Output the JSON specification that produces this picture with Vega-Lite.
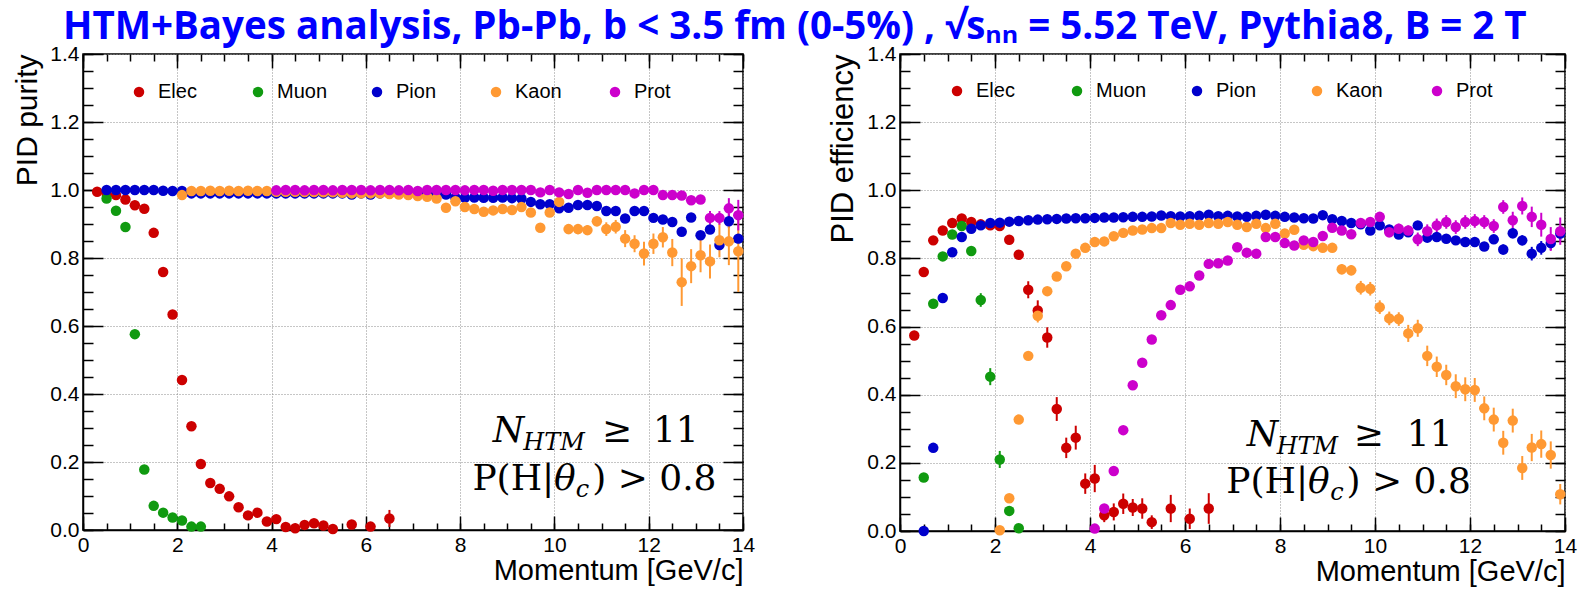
{
  "$schema": "https://vega.github.io/schema/vega-lite/v6.json",
  "background": "white",
  "padding": {"left": 12, "top": 7, "right": 5, "bottom": 5},
  "title": {"text": "HTM+Bayes analysis, Pb-Pb, b < 3.5 fm (0-5%) , √sₙₙ = 5.52 TeV, Pythia8, B = 2 T", "font": "Open Sans", "fontSize": 38.5, "fontWeight": "bold", "color": "#0000ff", "anchor": "middle", "offset": -5},
  "config": {"view": {"stroke": "black", "strokeWidth": 1.5}},
  "resolve": {"scale": {"color": "independent"}, "legend": {"color": "independent"}},
  "bounds": "flush",
  "spacing": 157,
  "datasets": {
    "pur": [
      {"s":"Elec","p":0.3,"v":0.995},{"s":"Elec","p":0.5,"v":0.99},{"s":"Elec","p":0.7,"v":0.985},{"s":"Elec","p":0.9,"v":0.972},{"s":"Elec","p":1.1,"v":0.955},{"s":"Elec","p":1.3,"v":0.945},{"s":"Elec","p":1.5,"v":0.874},{"s":"Elec","p":1.7,"v":0.759},{"s":"Elec","p":1.9,"v":0.634},{"s":"Elec","p":2.1,"v":0.441},{"s":"Elec","p":2.3,"v":0.305},{"s":"Elec","p":2.5,"v":0.194},{"s":"Elec","p":2.7,"v":0.138},{"s":"Elec","p":2.9,"v":0.121},{"s":"Elec","p":3.1,"v":0.099},{"s":"Elec","p":3.3,"v":0.067},{"s":"Elec","p":3.5,"v":0.043},{"s":"Elec","p":3.7,"v":0.051},{"s":"Elec","p":3.9,"v":0.025},{"s":"Elec","p":4.1,"v":0.032},{"s":"Elec","p":4.3,"v":0.009},{"s":"Elec","p":4.5,"v":0.005},{"s":"Elec","p":4.7,"v":0.015},{"s":"Elec","p":4.9,"v":0.02},{"s":"Elec","p":5.1,"v":0.013},{"s":"Elec","p":5.3,"v":0.003},{"s":"Elec","p":5.7,"v":0.016},{"s":"Elec","p":6.1,"v":0.01},{"s":"Elec","p":6.5,"v":0.034,"e":0.025},
      {"s":"Muon","p":0.5,"v":0.975},{"s":"Muon","p":0.7,"v":0.939},{"s":"Muon","p":0.9,"v":0.891},{"s":"Muon","p":1.1,"v":0.576},{"s":"Muon","p":1.3,"v":0.178},{"s":"Muon","p":1.5,"v":0.071},{"s":"Muon","p":1.7,"v":0.051},{"s":"Muon","p":1.9,"v":0.037},{"s":"Muon","p":2.1,"v":0.028},{"s":"Muon","p":2.3,"v":0.01},{"s":"Muon","p":2.5,"v":0.01},
      {"s":"Pion","p":0.5,"v":1.0},{"s":"Pion","p":0.7,"v":1.0},{"s":"Pion","p":0.9,"v":1.0},{"s":"Pion","p":1.1,"v":1.0},{"s":"Pion","p":1.3,"v":1.0},{"s":"Pion","p":1.5,"v":1.0},{"s":"Pion","p":1.7,"v":0.998},{"s":"Pion","p":1.9,"v":0.997},{"s":"Pion","p":2.1,"v":0.997},{"s":"Pion","p":2.3,"v":0.99},{"s":"Pion","p":2.5,"v":0.99},{"s":"Pion","p":2.7,"v":0.99},{"s":"Pion","p":2.9,"v":0.99},{"s":"Pion","p":3.1,"v":0.99},{"s":"Pion","p":3.3,"v":0.99},{"s":"Pion","p":3.5,"v":0.99},{"s":"Pion","p":3.7,"v":0.99},{"s":"Pion","p":3.9,"v":0.99},{"s":"Pion","p":4.1,"v":0.99},{"s":"Pion","p":4.3,"v":0.99},{"s":"Pion","p":4.5,"v":0.99},{"s":"Pion","p":4.7,"v":0.99},{"s":"Pion","p":4.9,"v":0.99},{"s":"Pion","p":5.1,"v":0.99},{"s":"Pion","p":5.3,"v":0.99},{"s":"Pion","p":5.5,"v":0.99},{"s":"Pion","p":5.7,"v":0.987},{"s":"Pion","p":5.9,"v":0.99},{"s":"Pion","p":6.1,"v":0.987},{"s":"Pion","p":6.3,"v":0.99},{"s":"Pion","p":6.5,"v":0.99},{"s":"Pion","p":6.7,"v":0.99},{"s":"Pion","p":6.9,"v":0.99},{"s":"Pion","p":7.1,"v":0.99},{"s":"Pion","p":7.3,"v":0.988},{"s":"Pion","p":7.5,"v":0.987},{"s":"Pion","p":7.7,"v":0.987},{"s":"Pion","p":7.9,"v":0.978},{"s":"Pion","p":8.1,"v":0.977},{"s":"Pion","p":8.3,"v":0.978},{"s":"Pion","p":8.5,"v":0.977},{"s":"Pion","p":8.7,"v":0.977},{"s":"Pion","p":8.9,"v":0.978},{"s":"Pion","p":9.1,"v":0.976},{"s":"Pion","p":9.3,"v":0.975},{"s":"Pion","p":9.5,"v":0.965},{"s":"Pion","p":9.7,"v":0.958},{"s":"Pion","p":9.9,"v":0.958},{"s":"Pion","p":10.1,"v":0.946},{"s":"Pion","p":10.3,"v":0.948},{"s":"Pion","p":10.5,"v":0.956},{"s":"Pion","p":10.7,"v":0.956},{"s":"Pion","p":10.9,"v":0.953},{"s":"Pion","p":11.1,"v":0.938},{"s":"Pion","p":11.3,"v":0.938},{"s":"Pion","p":11.5,"v":0.916},{"s":"Pion","p":11.7,"v":0.938},{"s":"Pion","p":11.9,"v":0.938},{"s":"Pion","p":12.1,"v":0.918},{"s":"Pion","p":12.3,"v":0.913},{"s":"Pion","p":12.5,"v":0.906},{"s":"Pion","p":12.7,"v":0.877},{"s":"Pion","p":12.9,"v":0.919},{"s":"Pion","p":13.1,"v":0.867,"e":0.01},{"s":"Pion","p":13.3,"v":0.884,"e":0.01},{"s":"Pion","p":13.5,"v":0.838,"e":0.015},{"s":"Pion","p":13.7,"v":0.908,"e":0.02},{"s":"Pion","p":13.9,"v":0.857,"e":0.015},
      {"s":"Kaon","p":2.1,"v":0.985},{"s":"Kaon","p":2.3,"v":0.997},{"s":"Kaon","p":2.5,"v":0.997},{"s":"Kaon","p":2.7,"v":0.998},{"s":"Kaon","p":2.9,"v":0.997},{"s":"Kaon","p":3.1,"v":0.998},{"s":"Kaon","p":3.3,"v":0.997},{"s":"Kaon","p":3.5,"v":0.998},{"s":"Kaon","p":3.7,"v":0.997},{"s":"Kaon","p":3.9,"v":0.997},{"s":"Kaon","p":4.1,"v":0.995},{"s":"Kaon","p":4.3,"v":0.995},{"s":"Kaon","p":4.5,"v":0.995},{"s":"Kaon","p":4.7,"v":0.994},{"s":"Kaon","p":4.9,"v":0.994},{"s":"Kaon","p":5.1,"v":0.993},{"s":"Kaon","p":5.3,"v":0.993},{"s":"Kaon","p":5.5,"v":0.992},{"s":"Kaon","p":5.7,"v":0.99},{"s":"Kaon","p":5.9,"v":0.99},{"s":"Kaon","p":6.1,"v":0.99},{"s":"Kaon","p":6.3,"v":0.99},{"s":"Kaon","p":6.5,"v":0.988},{"s":"Kaon","p":6.7,"v":0.987},{"s":"Kaon","p":6.9,"v":0.985},{"s":"Kaon","p":7.1,"v":0.982},{"s":"Kaon","p":7.3,"v":0.98},{"s":"Kaon","p":7.5,"v":0.975},{"s":"Kaon","p":7.7,"v":0.948},{"s":"Kaon","p":7.9,"v":0.967},{"s":"Kaon","p":8.1,"v":0.95},{"s":"Kaon","p":8.3,"v":0.944},{"s":"Kaon","p":8.5,"v":0.936},{"s":"Kaon","p":8.7,"v":0.94},{"s":"Kaon","p":8.9,"v":0.944},{"s":"Kaon","p":9.1,"v":0.941},{"s":"Kaon","p":9.3,"v":0.95},{"s":"Kaon","p":9.5,"v":0.934},{"s":"Kaon","p":9.7,"v":0.889,"e":0.01},{"s":"Kaon","p":9.9,"v":0.934,"e":0.01},{"s":"Kaon","p":10.1,"v":0.965},{"s":"Kaon","p":10.3,"v":0.885,"e":0.015},{"s":"Kaon","p":10.5,"v":0.885,"e":0.015},{"s":"Kaon","p":10.7,"v":0.882,"e":0.015},{"s":"Kaon","p":10.9,"v":0.908,"e":0.015},{"s":"Kaon","p":11.1,"v":0.885,"e":0.02},{"s":"Kaon","p":11.3,"v":0.892,"e":0.02},{"s":"Kaon","p":11.5,"v":0.857,"e":0.025},{"s":"Kaon","p":11.7,"v":0.842,"e":0.025},{"s":"Kaon","p":11.9,"v":0.813,"e":0.035},{"s":"Kaon","p":12.1,"v":0.842,"e":0.03},{"s":"Kaon","p":12.3,"v":0.861,"e":0.03},{"s":"Kaon","p":12.5,"v":0.816,"e":0.04},{"s":"Kaon","p":12.7,"v":0.729,"e":0.07},{"s":"Kaon","p":12.9,"v":0.776,"e":0.05},{"s":"Kaon","p":13.1,"v":0.808,"e":0.05},{"s":"Kaon","p":13.3,"v":0.79,"e":0.05},{"s":"Kaon","p":13.5,"v":0.852,"e":0.05},{"s":"Kaon","p":13.7,"v":0.849,"e":0.07},{"s":"Kaon","p":13.9,"v":0.82,"e":0.12},
      {"s":"Prot","p":4.1,"v":0.999},{"s":"Prot","p":4.3,"v":1.0},{"s":"Prot","p":4.5,"v":1.0},{"s":"Prot","p":4.7,"v":0.999},{"s":"Prot","p":4.9,"v":1.0},{"s":"Prot","p":5.1,"v":1.0},{"s":"Prot","p":5.3,"v":0.999},{"s":"Prot","p":5.5,"v":1.0},{"s":"Prot","p":5.7,"v":1.0},{"s":"Prot","p":5.9,"v":1.0},{"s":"Prot","p":6.1,"v":0.999},{"s":"Prot","p":6.3,"v":1.0},{"s":"Prot","p":6.5,"v":1.0},{"s":"Prot","p":6.7,"v":0.999},{"s":"Prot","p":6.9,"v":1.0},{"s":"Prot","p":7.1,"v":0.997},{"s":"Prot","p":7.3,"v":1.0},{"s":"Prot","p":7.5,"v":1.0},{"s":"Prot","p":7.7,"v":1.0},{"s":"Prot","p":7.9,"v":1.0},{"s":"Prot","p":8.1,"v":0.999},{"s":"Prot","p":8.3,"v":1.0},{"s":"Prot","p":8.5,"v":1.0},{"s":"Prot","p":8.7,"v":0.998},{"s":"Prot","p":8.9,"v":1.0},{"s":"Prot","p":9.1,"v":1.0},{"s":"Prot","p":9.3,"v":1.0},{"s":"Prot","p":9.5,"v":1.0},{"s":"Prot","p":9.7,"v":0.993},{"s":"Prot","p":9.9,"v":1.0},{"s":"Prot","p":10.1,"v":0.993},{"s":"Prot","p":10.3,"v":0.988},{"s":"Prot","p":10.5,"v":1.0},{"s":"Prot","p":10.7,"v":0.992},{"s":"Prot","p":10.9,"v":1.0},{"s":"Prot","p":11.1,"v":1.0},{"s":"Prot","p":11.3,"v":1.0},{"s":"Prot","p":11.5,"v":1.0},{"s":"Prot","p":11.7,"v":0.99},{"s":"Prot","p":11.9,"v":1.0},{"s":"Prot","p":12.1,"v":1.0},{"s":"Prot","p":12.3,"v":0.985},{"s":"Prot","p":12.5,"v":0.985},{"s":"Prot","p":12.7,"v":0.984},{"s":"Prot","p":12.9,"v":0.97},{"s":"Prot","p":13.1,"v":0.972},{"s":"Prot","p":13.3,"v":0.918,"e":0.02},{"s":"Prot","p":13.5,"v":0.918,"e":0.02},{"s":"Prot","p":13.7,"v":0.946,"e":0.03},{"s":"Prot","p":13.9,"v":0.926,"e":0.045}
    ],
    "eff": [
      {"s":"Elec","p":0.3,"v":0.574,"e":0.01},{"s":"Elec","p":0.5,"v":0.76},{"s":"Elec","p":0.7,"v":0.853},{"s":"Elec","p":0.9,"v":0.882},{"s":"Elec","p":1.1,"v":0.904},{"s":"Elec","p":1.3,"v":0.917},{"s":"Elec","p":1.5,"v":0.907},{"s":"Elec","p":1.7,"v":0.9},{"s":"Elec","p":1.9,"v":0.897},{"s":"Elec","p":2.1,"v":0.895},{"s":"Elec","p":2.3,"v":0.855},{"s":"Elec","p":2.5,"v":0.811},{"s":"Elec","p":2.7,"v":0.708,"e":0.025},{"s":"Elec","p":2.9,"v":0.647,"e":0.03},{"s":"Elec","p":3.1,"v":0.568,"e":0.03},{"s":"Elec","p":3.3,"v":0.358,"e":0.035},{"s":"Elec","p":3.5,"v":0.244,"e":0.03},{"s":"Elec","p":3.7,"v":0.274,"e":0.035},{"s":"Elec","p":3.9,"v":0.139,"e":0.03},{"s":"Elec","p":4.1,"v":0.154,"e":0.04},{"s":"Elec","p":4.3,"v":0.046,"e":0.02},{"s":"Elec","p":4.5,"v":0.056,"e":0.025},{"s":"Elec","p":4.7,"v":0.08,"e":0.03},{"s":"Elec","p":4.9,"v":0.069,"e":0.025},{"s":"Elec","p":5.1,"v":0.066,"e":0.03},{"s":"Elec","p":5.3,"v":0.026,"e":0.02},{"s":"Elec","p":5.7,"v":0.066,"e":0.04},{"s":"Elec","p":6.1,"v":0.036,"e":0.03},{"s":"Elec","p":6.5,"v":0.066,"e":0.045},
      {"s":"Muon","p":0.5,"v":0.157},{"s":"Muon","p":0.7,"v":0.667},{"s":"Muon","p":0.9,"v":0.806},{"s":"Muon","p":1.1,"v":0.87},{"s":"Muon","p":1.3,"v":0.895},{"s":"Muon","p":1.5,"v":0.822},{"s":"Muon","p":1.7,"v":0.678,"e":0.02},{"s":"Muon","p":1.9,"v":0.453,"e":0.025},{"s":"Muon","p":2.1,"v":0.21,"e":0.025},{"s":"Muon","p":2.3,"v":0.059},{"s":"Muon","p":2.5,"v":0.008},
      {"s":"Pion","p":0.5,"v":0.0},{"s":"Pion","p":0.7,"v":0.244},{"s":"Pion","p":0.9,"v":0.684},{"s":"Pion","p":1.1,"v":0.818},{"s":"Pion","p":1.3,"v":0.863},{"s":"Pion","p":1.5,"v":0.887},{"s":"Pion","p":1.7,"v":0.897},{"s":"Pion","p":1.9,"v":0.904},{"s":"Pion","p":2.1,"v":0.905},{"s":"Pion","p":2.3,"v":0.908},{"s":"Pion","p":2.5,"v":0.91},{"s":"Pion","p":2.7,"v":0.912},{"s":"Pion","p":2.9,"v":0.914},{"s":"Pion","p":3.1,"v":0.915},{"s":"Pion","p":3.3,"v":0.916},{"s":"Pion","p":3.5,"v":0.917},{"s":"Pion","p":3.7,"v":0.918},{"s":"Pion","p":3.9,"v":0.918},{"s":"Pion","p":4.1,"v":0.919},{"s":"Pion","p":4.3,"v":0.92},{"s":"Pion","p":4.5,"v":0.92},{"s":"Pion","p":4.7,"v":0.921},{"s":"Pion","p":4.9,"v":0.922},{"s":"Pion","p":5.1,"v":0.922},{"s":"Pion","p":5.3,"v":0.923},{"s":"Pion","p":5.5,"v":0.926},{"s":"Pion","p":5.7,"v":0.924},{"s":"Pion","p":5.9,"v":0.923},{"s":"Pion","p":6.1,"v":0.924},{"s":"Pion","p":6.3,"v":0.925},{"s":"Pion","p":6.5,"v":0.928},{"s":"Pion","p":6.7,"v":0.924},{"s":"Pion","p":6.9,"v":0.925},{"s":"Pion","p":7.1,"v":0.923},{"s":"Pion","p":7.3,"v":0.922},{"s":"Pion","p":7.5,"v":0.925},{"s":"Pion","p":7.7,"v":0.928},{"s":"Pion","p":7.9,"v":0.925},{"s":"Pion","p":8.1,"v":0.922},{"s":"Pion","p":8.3,"v":0.92},{"s":"Pion","p":8.5,"v":0.918},{"s":"Pion","p":8.7,"v":0.917},{"s":"Pion","p":8.9,"v":0.927},{"s":"Pion","p":9.1,"v":0.915},{"s":"Pion","p":9.3,"v":0.91},{"s":"Pion","p":9.5,"v":0.904},{"s":"Pion","p":9.7,"v":0.9},{"s":"Pion","p":9.9,"v":0.882},{"s":"Pion","p":10.1,"v":0.897},{"s":"Pion","p":10.3,"v":0.885},{"s":"Pion","p":10.5,"v":0.87},{"s":"Pion","p":10.7,"v":0.877},{"s":"Pion","p":10.9,"v":0.897},{"s":"Pion","p":11.1,"v":0.861},{"s":"Pion","p":11.3,"v":0.863},{"s":"Pion","p":11.5,"v":0.858},{"s":"Pion","p":11.7,"v":0.853},{"s":"Pion","p":11.9,"v":0.848},{"s":"Pion","p":12.1,"v":0.848},{"s":"Pion","p":12.3,"v":0.835},{"s":"Pion","p":12.5,"v":0.856},{"s":"Pion","p":12.7,"v":0.826,"e":0.015},{"s":"Pion","p":12.9,"v":0.874,"e":0.015},{"s":"Pion","p":13.1,"v":0.853,"e":0.015},{"s":"Pion","p":13.3,"v":0.814,"e":0.02},{"s":"Pion","p":13.5,"v":0.831,"e":0.02},{"s":"Pion","p":13.7,"v":0.845,"e":0.02},{"s":"Pion","p":13.9,"v":0.873,"e":0.02},
      {"s":"Kaon","p":2.1,"v":0.002},{"s":"Kaon","p":2.3,"v":0.096},{"s":"Kaon","p":2.5,"v":0.327},{"s":"Kaon","p":2.7,"v":0.514},{"s":"Kaon","p":2.9,"v":0.632,"e":0.02},{"s":"Kaon","p":3.1,"v":0.704},{"s":"Kaon","p":3.3,"v":0.747},{"s":"Kaon","p":3.5,"v":0.777},{"s":"Kaon","p":3.7,"v":0.814},{"s":"Kaon","p":3.9,"v":0.831},{"s":"Kaon","p":4.1,"v":0.848},{"s":"Kaon","p":4.3,"v":0.85},{"s":"Kaon","p":4.5,"v":0.865},{"s":"Kaon","p":4.7,"v":0.875},{"s":"Kaon","p":4.9,"v":0.882},{"s":"Kaon","p":5.1,"v":0.885},{"s":"Kaon","p":5.3,"v":0.889},{"s":"Kaon","p":5.5,"v":0.889},{"s":"Kaon","p":5.7,"v":0.904},{"s":"Kaon","p":5.9,"v":0.899},{"s":"Kaon","p":6.1,"v":0.902},{"s":"Kaon","p":6.3,"v":0.899},{"s":"Kaon","p":6.5,"v":0.904},{"s":"Kaon","p":6.7,"v":0.902},{"s":"Kaon","p":6.9,"v":0.907},{"s":"Kaon","p":7.1,"v":0.899},{"s":"Kaon","p":7.3,"v":0.892},{"s":"Kaon","p":7.5,"v":0.902},{"s":"Kaon","p":7.7,"v":0.889},{"s":"Kaon","p":7.9,"v":0.902},{"s":"Kaon","p":8.1,"v":0.873},{"s":"Kaon","p":8.3,"v":0.884},{"s":"Kaon","p":8.5,"v":0.84},{"s":"Kaon","p":8.7,"v":0.836},{"s":"Kaon","p":8.9,"v":0.831},{"s":"Kaon","p":9.1,"v":0.831},{"s":"Kaon","p":9.3,"v":0.768,"e":0.015},{"s":"Kaon","p":9.5,"v":0.765,"e":0.015},{"s":"Kaon","p":9.7,"v":0.714,"e":0.02},{"s":"Kaon","p":9.9,"v":0.711,"e":0.02},{"s":"Kaon","p":10.1,"v":0.657,"e":0.02},{"s":"Kaon","p":10.3,"v":0.624,"e":0.02},{"s":"Kaon","p":10.5,"v":0.622,"e":0.02},{"s":"Kaon","p":10.7,"v":0.58,"e":0.025},{"s":"Kaon","p":10.9,"v":0.595,"e":0.025},{"s":"Kaon","p":11.1,"v":0.514,"e":0.03},{"s":"Kaon","p":11.3,"v":0.482,"e":0.03},{"s":"Kaon","p":11.5,"v":0.458,"e":0.03},{"s":"Kaon","p":11.7,"v":0.425,"e":0.035},{"s":"Kaon","p":11.9,"v":0.416,"e":0.035},{"s":"Kaon","p":12.1,"v":0.414,"e":0.035},{"s":"Kaon","p":12.3,"v":0.36,"e":0.035},{"s":"Kaon","p":12.5,"v":0.327,"e":0.035},{"s":"Kaon","p":12.7,"v":0.259,"e":0.035},{"s":"Kaon","p":12.9,"v":0.324,"e":0.035},{"s":"Kaon","p":13.1,"v":0.185,"e":0.035},{"s":"Kaon","p":13.3,"v":0.245,"e":0.04},{"s":"Kaon","p":13.5,"v":0.255,"e":0.04},{"s":"Kaon","p":13.7,"v":0.223,"e":0.04},{"s":"Kaon","p":13.9,"v":0.108,"e":0.03},
      {"s":"Prot","p":4.1,"v":0.007},{"s":"Prot","p":4.3,"v":0.066},{"s":"Prot","p":4.5,"v":0.176},{"s":"Prot","p":4.7,"v":0.296},{"s":"Prot","p":4.9,"v":0.428},{"s":"Prot","p":5.1,"v":0.494},{"s":"Prot","p":5.3,"v":0.562},{"s":"Prot","p":5.5,"v":0.633},{"s":"Prot","p":5.7,"v":0.663},{"s":"Prot","p":5.9,"v":0.708},{"s":"Prot","p":6.1,"v":0.718},{"s":"Prot","p":6.3,"v":0.75},{"s":"Prot","p":6.5,"v":0.784},{"s":"Prot","p":6.7,"v":0.786},{"s":"Prot","p":6.9,"v":0.794},{"s":"Prot","p":7.1,"v":0.833},{"s":"Prot","p":7.3,"v":0.817},{"s":"Prot","p":7.5,"v":0.814},{"s":"Prot","p":7.7,"v":0.863},{"s":"Prot","p":7.9,"v":0.863},{"s":"Prot","p":8.1,"v":0.845},{"s":"Prot","p":8.3,"v":0.838},{"s":"Prot","p":8.5,"v":0.853},{"s":"Prot","p":8.7,"v":0.848},{"s":"Prot","p":8.9,"v":0.866},{"s":"Prot","p":9.1,"v":0.89},{"s":"Prot","p":9.3,"v":0.882},{"s":"Prot","p":9.5,"v":0.871},{"s":"Prot","p":9.7,"v":0.904},{"s":"Prot","p":9.9,"v":0.907},{"s":"Prot","p":10.1,"v":0.922,"e":0.01},{"s":"Prot","p":10.3,"v":0.877,"e":0.015},{"s":"Prot","p":10.5,"v":0.887,"e":0.015},{"s":"Prot","p":10.7,"v":0.882,"e":0.015},{"s":"Prot","p":10.9,"v":0.856,"e":0.02},{"s":"Prot","p":11.1,"v":0.88,"e":0.02},{"s":"Prot","p":11.3,"v":0.897,"e":0.02},{"s":"Prot","p":11.5,"v":0.907,"e":0.02},{"s":"Prot","p":11.7,"v":0.892,"e":0.02},{"s":"Prot","p":11.9,"v":0.907,"e":0.02},{"s":"Prot","p":12.1,"v":0.91,"e":0.02},{"s":"Prot","p":12.3,"v":0.907,"e":0.02},{"s":"Prot","p":12.5,"v":0.895,"e":0.02},{"s":"Prot","p":12.7,"v":0.951,"e":0.02},{"s":"Prot","p":12.9,"v":0.912,"e":0.025},{"s":"Prot","p":13.1,"v":0.954,"e":0.025},{"s":"Prot","p":13.3,"v":0.922,"e":0.03},{"s":"Prot","p":13.5,"v":0.899,"e":0.035},{"s":"Prot","p":13.7,"v":0.857,"e":0.035},{"s":"Prot","p":13.9,"v":0.88,"e":0.04}
    ]
  },
  "hconcat": [
    {
      "width": 660, "height": 476,
      "data": {"name": "pur"},
      "resolve": {"axis": {"x": "independent", "y": "independent"}},
      "layer": [
        {"transform": [{"filter": "datum.s == 'Elec' && datum.e > 0"}], "mark": {"type": "errorbar", "thickness": 2, "color": "#cc0000"},
         "encoding": {"x": {"field": "p", "type": "quantitative", "scale": {"domain": [0, 14], "nice": false, "zero": false}, "axis": null}, "y": {"field": "v", "type": "quantitative", "scale": {"domain": [0, 1.4], "nice": false, "zero": false}, "axis": null}, "yError": {"field": "e"}}},
        {"transform": [{"filter": "datum.s == 'Pion' && datum.e > 0"}], "mark": {"type": "errorbar", "thickness": 2, "color": "#0000cc"},
         "encoding": {"x": {"field": "p", "type": "quantitative", "scale": {"domain": [0, 14], "nice": false, "zero": false}, "axis": null}, "y": {"field": "v", "type": "quantitative", "scale": {"domain": [0, 1.4], "nice": false, "zero": false}, "axis": null}, "yError": {"field": "e"}}},
        {"transform": [{"filter": "datum.s == 'Kaon' && datum.e > 0"}], "mark": {"type": "errorbar", "thickness": 2, "color": "#ff9933"},
         "encoding": {"x": {"field": "p", "type": "quantitative", "scale": {"domain": [0, 14], "nice": false, "zero": false}, "axis": null}, "y": {"field": "v", "type": "quantitative", "scale": {"domain": [0, 1.4], "nice": false, "zero": false}, "axis": null}, "yError": {"field": "e"}}},
        {"transform": [{"filter": "datum.s == 'Prot' && datum.e > 0"}], "mark": {"type": "errorbar", "thickness": 2, "color": "#cc00cc"},
         "encoding": {"x": {"field": "p", "type": "quantitative", "scale": {"domain": [0, 14], "nice": false, "zero": false}, "axis": null}, "y": {"field": "v", "type": "quantitative", "scale": {"domain": [0, 1.4], "nice": false, "zero": false}, "axis": null}, "yError": {"field": "e"}}},
        {
          "mark": {"type": "circle", "size": 110, "opacity": 1},
          "encoding": {
            "x": {"field": "p", "type": "quantitative", "scale": {"domain": [0, 14], "nice": false, "zero": false},
              "axis": {"orient": "bottom", "values": [0,2,4,6,8,10,12,14], "format": "d", "title": "Momentum [GeV/c]", "titleAnchor": "end", "titleFont": "Liberation Sans", "titleFontSize": 29, "titleFontWeight": "normal", "titleColor": "black", "titlePadding": 1, "labelFont": "Liberation Sans", "labelFontSize": 21, "labelColor": "black", "labelPadding": 4, "labelFlush": false, "labelOverlap": false, "ticks": false, "domain": true, "domainColor": "black", "domainWidth": 1.5, "grid": true, "gridDash": [1,2], "gridColor": "#8c8c8c", "gridWidth": 1}},
            "y": {"field": "v", "type": "quantitative", "scale": {"domain": [0, 1.4], "nice": false, "zero": false},
              "axis": {"orient": "left", "values": [0,0.2,0.4,0.6,0.8,1,1.2,1.4], "format": ".1f", "title": "PID purity", "titleAnchor": "end", "titleFont": "Liberation Sans", "titleFontSize": 30, "titleFontWeight": "normal", "titleColor": "black", "titlePadding": 7, "labelFont": "Liberation Sans", "labelFontSize": 21, "labelColor": "black", "labelPadding": 4, "labelFlush": false, "labelOverlap": false, "ticks": false, "domain": true, "domainColor": "black", "domainWidth": 1.5, "grid": true, "gridDash": [1,2], "gridColor": "#8c8c8c", "gridWidth": 1}},
            "color": {"field": "s", "type": "nominal", "scale": {"domain": ["Elec","Muon","Pion","Kaon","Prot"], "range": ["#cc0000","#109a10","#0000cc","#ff9933","#cc00cc"]},
              "legend": {"orient": "none", "legendX": 46, "legendY": 28, "direction": "horizontal", "columns": 5, "gridAlign": "all", "columnPadding": 39, "title": null, "symbolType": "circle", "symbolSize": 110, "symbolStrokeWidth": 0, "labelFont": "Liberation Sans", "labelFontSize": 20, "labelColor": "black", "labelOffset": 9}}
          }
        },
        {
          "data": {"values": [{}]},
          "mark": {"type": "text", "text": "N", "font": "DejaVu Serif", "fontSize": 36, "fontStyle": "italic", "align": "left", "baseline": "alphabetic", "color": "black"},
          "encoding": {
            "x": {"datum": 8.69, "type": "quantitative", "scale": {"domain": [0, 14], "nice": false, "zero": false}, "axis": {"orient": "bottom", "values": [0,2,4,6,8,10,12,14], "labels": false, "title": null, "domain": false, "grid": false, "ticks": true, "tickSize": -14, "tickColor": "black", "tickWidth": 1.5}},
            "y": {"datum": 0.259, "type": "quantitative", "scale": {"domain": [0, 1.4], "nice": false, "zero": false}, "axis": {"orient": "left", "values": [0,0.2,0.4,0.6,0.8,1,1.2,1.4], "labels": false, "title": null, "domain": false, "grid": false, "ticks": true, "tickSize": -20, "tickColor": "black", "tickWidth": 1.5}}
          }
        },
        {
          "data": {"values": [{}]},
          "mark": {"type": "text", "text": "HTM", "font": "DejaVu Serif", "fontSize": 24, "fontStyle": "italic", "align": "left", "baseline": "alphabetic", "color": "black"},
          "encoding": {
            "x": {"datum": 9.34, "type": "quantitative", "scale": {"domain": [0, 14], "nice": false, "zero": false}, "axis": {"orient": "bottom", "values": [0,0.5,1,1.5,2,2.5,3,3.5,4,4.5,5,5.5,6,6.5,7,7.5,8,8.5,9,9.5,10,10.5,11,11.5,12,12.5,13,13.5,14], "labels": false, "title": null, "domain": false, "grid": false, "ticks": true, "tickSize": -7, "tickColor": "black", "tickWidth": 1.5}},
            "y": {"datum": 0.235, "type": "quantitative", "scale": {"domain": [0, 1.4], "nice": false, "zero": false}, "axis": {"orient": "left", "values": [0,0.05,0.1,0.15,0.2,0.25,0.3,0.35,0.4,0.45,0.5,0.55,0.6,0.65,0.7,0.75,0.8,0.85,0.9,0.95,1,1.05,1.1,1.15,1.2,1.25,1.3,1.35,1.4], "labels": false, "title": null, "domain": false, "grid": false, "ticks": true, "tickSize": -10, "tickColor": "black", "tickWidth": 1.5}}
          }
        },
        {
          "data": {"values": [{}]},
          "mark": {"type": "text", "text": "≥", "font": "DejaVu Serif", "fontSize": 36, "align": "left", "baseline": "alphabetic", "color": "black"},
          "encoding": {
            "x": {"datum": 11.01, "type": "quantitative", "scale": {"domain": [0, 14], "nice": false, "zero": false}, "axis": {"orient": "top", "values": [0,2,4,6,8,10,12,14], "labels": false, "title": null, "domain": false, "grid": false, "ticks": true, "tickSize": -14, "tickColor": "black", "tickWidth": 1.5}},
            "y": {"datum": 0.259, "type": "quantitative", "scale": {"domain": [0, 1.4], "nice": false, "zero": false}, "axis": {"orient": "right", "values": [0,0.2,0.4,0.6,0.8,1,1.2,1.4], "labels": false, "title": null, "domain": false, "grid": false, "ticks": true, "tickSize": -20, "tickColor": "black", "tickWidth": 1.5}}
          }
        },
        {
          "data": {"values": [{}]},
          "mark": {"type": "text", "text": "11", "font": "DejaVu Serif", "fontSize": 36, "align": "left", "baseline": "alphabetic", "color": "black"},
          "encoding": {
            "x": {"datum": 12.09, "type": "quantitative", "scale": {"domain": [0, 14], "nice": false, "zero": false}, "axis": {"orient": "top", "values": [0,0.5,1,1.5,2,2.5,3,3.5,4,4.5,5,5.5,6,6.5,7,7.5,8,8.5,9,9.5,10,10.5,11,11.5,12,12.5,13,13.5,14], "labels": false, "title": null, "domain": false, "grid": false, "ticks": true, "tickSize": -7, "tickColor": "black", "tickWidth": 1.5}},
            "y": {"datum": 0.259, "type": "quantitative", "scale": {"domain": [0, 1.4], "nice": false, "zero": false}, "axis": {"orient": "right", "values": [0,0.05,0.1,0.15,0.2,0.25,0.3,0.35,0.4,0.45,0.5,0.55,0.6,0.65,0.7,0.75,0.8,0.85,0.9,0.95,1,1.05,1.1,1.15,1.2,1.25,1.3,1.35,1.4], "labels": false, "title": null, "domain": false, "grid": false, "ticks": true, "tickSize": -10, "tickColor": "black", "tickWidth": 1.5}}
          }
        },
        {
          "data": {"values": [{}]},
          "mark": {"type": "text", "text": "P(H|", "font": "DejaVu Serif", "fontSize": 36, "align": "left", "baseline": "alphabetic", "color": "black"},
          "encoding": {
            "x": {"datum": 8.26, "type": "quantitative", "scale": {"domain": [0, 14], "nice": false, "zero": false}, "axis": null},
            "y": {"datum": 0.119, "type": "quantitative", "scale": {"domain": [0, 1.4], "nice": false, "zero": false}, "axis": null}
          }
        },
        {
          "data": {"values": [{}]},
          "mark": {"type": "text", "text": "θ", "font": "DejaVu Serif", "fontSize": 36, "fontStyle": "italic", "align": "left", "baseline": "alphabetic", "color": "black"},
          "encoding": {
            "x": {"datum": 9.99, "type": "quantitative", "scale": {"domain": [0, 14], "nice": false, "zero": false}, "axis": null},
            "y": {"datum": 0.119, "type": "quantitative", "scale": {"domain": [0, 1.4], "nice": false, "zero": false}, "axis": null}
          }
        },
        {
          "data": {"values": [{}]},
          "mark": {"type": "text", "text": "c", "font": "DejaVu Serif", "fontSize": 24, "fontStyle": "italic", "align": "left", "baseline": "alphabetic", "color": "black"},
          "encoding": {
            "x": {"datum": 10.45, "type": "quantitative", "scale": {"domain": [0, 14], "nice": false, "zero": false}, "axis": null},
            "y": {"datum": 0.097, "type": "quantitative", "scale": {"domain": [0, 1.4], "nice": false, "zero": false}, "axis": null}
          }
        },
        {
          "data": {"values": [{}]},
          "mark": {"type": "text", "text": ") > 0.8", "font": "DejaVu Serif", "fontSize": 36, "align": "left", "baseline": "alphabetic", "color": "black"},
          "encoding": {
            "x": {"datum": 10.8, "type": "quantitative", "scale": {"domain": [0, 14], "nice": false, "zero": false}, "axis": null},
            "y": {"datum": 0.119, "type": "quantitative", "scale": {"domain": [0, 1.4], "nice": false, "zero": false}, "axis": null}
          }
        }
      ]
    },
    {
      "width": 665, "height": 477,
      "data": {"name": "eff"},
      "resolve": {"axis": {"x": "independent", "y": "independent"}},
      "layer": [
        {"transform": [{"filter": "datum.s == 'Elec' && datum.e > 0"}], "mark": {"type": "errorbar", "thickness": 2, "color": "#cc0000"},
         "encoding": {"x": {"field": "p", "type": "quantitative", "scale": {"domain": [0, 14], "nice": false, "zero": false}, "axis": null}, "y": {"field": "v", "type": "quantitative", "scale": {"domain": [0, 1.4], "nice": false, "zero": false}, "axis": null}, "yError": {"field": "e"}}},
        {"transform": [{"filter": "datum.s == 'Muon' && datum.e > 0"}], "mark": {"type": "errorbar", "thickness": 2, "color": "#109a10"},
         "encoding": {"x": {"field": "p", "type": "quantitative", "scale": {"domain": [0, 14], "nice": false, "zero": false}, "axis": null}, "y": {"field": "v", "type": "quantitative", "scale": {"domain": [0, 1.4], "nice": false, "zero": false}, "axis": null}, "yError": {"field": "e"}}},
        {"transform": [{"filter": "datum.s == 'Pion' && datum.e > 0"}], "mark": {"type": "errorbar", "thickness": 2, "color": "#0000cc"},
         "encoding": {"x": {"field": "p", "type": "quantitative", "scale": {"domain": [0, 14], "nice": false, "zero": false}, "axis": null}, "y": {"field": "v", "type": "quantitative", "scale": {"domain": [0, 1.4], "nice": false, "zero": false}, "axis": null}, "yError": {"field": "e"}}},
        {"transform": [{"filter": "datum.s == 'Kaon' && datum.e > 0"}], "mark": {"type": "errorbar", "thickness": 2, "color": "#ff9933"},
         "encoding": {"x": {"field": "p", "type": "quantitative", "scale": {"domain": [0, 14], "nice": false, "zero": false}, "axis": null}, "y": {"field": "v", "type": "quantitative", "scale": {"domain": [0, 1.4], "nice": false, "zero": false}, "axis": null}, "yError": {"field": "e"}}},
        {"transform": [{"filter": "datum.s == 'Prot' && datum.e > 0"}], "mark": {"type": "errorbar", "thickness": 2, "color": "#cc00cc"},
         "encoding": {"x": {"field": "p", "type": "quantitative", "scale": {"domain": [0, 14], "nice": false, "zero": false}, "axis": null}, "y": {"field": "v", "type": "quantitative", "scale": {"domain": [0, 1.4], "nice": false, "zero": false}, "axis": null}, "yError": {"field": "e"}}},
        {
          "mark": {"type": "circle", "size": 110, "opacity": 1},
          "encoding": {
            "x": {"field": "p", "type": "quantitative", "scale": {"domain": [0, 14], "nice": false, "zero": false},
              "axis": {"orient": "bottom", "values": [0,2,4,6,8,10,12,14], "format": "d", "title": "Momentum [GeV/c]", "titleAnchor": "end", "titleFont": "Liberation Sans", "titleFontSize": 29, "titleFontWeight": "normal", "titleColor": "black", "titlePadding": 1, "labelFont": "Liberation Sans", "labelFontSize": 21, "labelColor": "black", "labelPadding": 4, "labelFlush": false, "labelOverlap": false, "ticks": false, "domain": true, "domainColor": "black", "domainWidth": 1.5, "grid": true, "gridDash": [1,2], "gridColor": "#8c8c8c", "gridWidth": 1}},
            "y": {"field": "v", "type": "quantitative", "scale": {"domain": [0, 1.4], "nice": false, "zero": false},
              "axis": {"orient": "left", "values": [0,0.2,0.4,0.6,0.8,1,1.2,1.4], "format": ".1f", "title": "PID efficiency", "titleAnchor": "end", "titleFont": "Liberation Sans", "titleFontSize": 31, "titleFontWeight": "normal", "titleColor": "black", "titlePadding": 7, "labelFont": "Liberation Sans", "labelFontSize": 21, "labelColor": "black", "labelPadding": 4, "labelFlush": false, "labelOverlap": false, "ticks": false, "domain": true, "domainColor": "black", "domainWidth": 1.5, "grid": true, "gridDash": [1,2], "gridColor": "#8c8c8c", "gridWidth": 1}},
            "color": {"field": "s", "type": "nominal", "scale": {"domain": ["Elec","Muon","Pion","Kaon","Prot"], "range": ["#cc0000","#109a10","#0000cc","#ff9933","#cc00cc"]},
              "legend": {"orient": "none", "legendX": 47, "legendY": 27, "direction": "horizontal", "columns": 5, "gridAlign": "all", "columnPadding": 40, "title": null, "symbolType": "circle", "symbolSize": 110, "symbolStrokeWidth": 0, "labelFont": "Liberation Sans", "labelFontSize": 20, "labelColor": "black", "labelOffset": 9}}
          }
        },
        {
          "data": {"values": [{}]},
          "mark": {"type": "text", "text": "N", "font": "DejaVu Serif", "fontSize": 36, "fontStyle": "italic", "align": "left", "baseline": "alphabetic", "color": "black"},
          "encoding": {
            "x": {"datum": 7.3, "type": "quantitative", "scale": {"domain": [0, 14], "nice": false, "zero": false}, "axis": {"orient": "bottom", "values": [0,2,4,6,8,10,12,14], "labels": false, "title": null, "domain": false, "grid": false, "ticks": true, "tickSize": -14, "tickColor": "black", "tickWidth": 1.5}},
            "y": {"datum": 0.25, "type": "quantitative", "scale": {"domain": [0, 1.4], "nice": false, "zero": false}, "axis": {"orient": "left", "values": [0,0.2,0.4,0.6,0.8,1,1.2,1.4], "labels": false, "title": null, "domain": false, "grid": false, "ticks": true, "tickSize": -20, "tickColor": "black", "tickWidth": 1.5}}
          }
        },
        {
          "data": {"values": [{}]},
          "mark": {"type": "text", "text": "HTM", "font": "DejaVu Serif", "fontSize": 24, "fontStyle": "italic", "align": "left", "baseline": "alphabetic", "color": "black"},
          "encoding": {
            "x": {"datum": 7.93, "type": "quantitative", "scale": {"domain": [0, 14], "nice": false, "zero": false}, "axis": {"orient": "bottom", "values": [0,0.5,1,1.5,2,2.5,3,3.5,4,4.5,5,5.5,6,6.5,7,7.5,8,8.5,9,9.5,10,10.5,11,11.5,12,12.5,13,13.5,14], "labels": false, "title": null, "domain": false, "grid": false, "ticks": true, "tickSize": -7, "tickColor": "black", "tickWidth": 1.5}},
            "y": {"datum": 0.227, "type": "quantitative", "scale": {"domain": [0, 1.4], "nice": false, "zero": false}, "axis": {"orient": "left", "values": [0,0.05,0.1,0.15,0.2,0.25,0.3,0.35,0.4,0.45,0.5,0.55,0.6,0.65,0.7,0.75,0.8,0.85,0.9,0.95,1,1.05,1.1,1.15,1.2,1.25,1.3,1.35,1.4], "labels": false, "title": null, "domain": false, "grid": false, "ticks": true, "tickSize": -10, "tickColor": "black", "tickWidth": 1.5}}
          }
        },
        {
          "data": {"values": [{}]},
          "mark": {"type": "text", "text": "≥", "font": "DejaVu Serif", "fontSize": 36, "align": "left", "baseline": "alphabetic", "color": "black"},
          "encoding": {
            "x": {"datum": 9.55, "type": "quantitative", "scale": {"domain": [0, 14], "nice": false, "zero": false}, "axis": {"orient": "top", "values": [0,2,4,6,8,10,12,14], "labels": false, "title": null, "domain": false, "grid": false, "ticks": true, "tickSize": -14, "tickColor": "black", "tickWidth": 1.5}},
            "y": {"datum": 0.25, "type": "quantitative", "scale": {"domain": [0, 1.4], "nice": false, "zero": false}, "axis": {"orient": "right", "values": [0,0.2,0.4,0.6,0.8,1,1.2,1.4], "labels": false, "title": null, "domain": false, "grid": false, "ticks": true, "tickSize": -20, "tickColor": "black", "tickWidth": 1.5}}
          }
        },
        {
          "data": {"values": [{}]},
          "mark": {"type": "text", "text": "11", "font": "DejaVu Serif", "fontSize": 36, "align": "left", "baseline": "alphabetic", "color": "black"},
          "encoding": {
            "x": {"datum": 10.67, "type": "quantitative", "scale": {"domain": [0, 14], "nice": false, "zero": false}, "axis": {"orient": "top", "values": [0,0.5,1,1.5,2,2.5,3,3.5,4,4.5,5,5.5,6,6.5,7,7.5,8,8.5,9,9.5,10,10.5,11,11.5,12,12.5,13,13.5,14], "labels": false, "title": null, "domain": false, "grid": false, "ticks": true, "tickSize": -7, "tickColor": "black", "tickWidth": 1.5}},
            "y": {"datum": 0.25, "type": "quantitative", "scale": {"domain": [0, 1.4], "nice": false, "zero": false}, "axis": {"orient": "right", "values": [0,0.05,0.1,0.15,0.2,0.25,0.3,0.35,0.4,0.45,0.5,0.55,0.6,0.65,0.7,0.75,0.8,0.85,0.9,0.95,1,1.05,1.1,1.15,1.2,1.25,1.3,1.35,1.4], "labels": false, "title": null, "domain": false, "grid": false, "ticks": true, "tickSize": -10, "tickColor": "black", "tickWidth": 1.5}}
          }
        },
        {
          "data": {"values": [{}]},
          "mark": {"type": "text", "text": "P(H|", "font": "DejaVu Serif", "fontSize": 36, "align": "left", "baseline": "alphabetic", "color": "black"},
          "encoding": {
            "x": {"datum": 6.87, "type": "quantitative", "scale": {"domain": [0, 14], "nice": false, "zero": false}, "axis": null},
            "y": {"datum": 0.112, "type": "quantitative", "scale": {"domain": [0, 1.4], "nice": false, "zero": false}, "axis": null}
          }
        },
        {
          "data": {"values": [{}]},
          "mark": {"type": "text", "text": "θ", "font": "DejaVu Serif", "fontSize": 36, "fontStyle": "italic", "align": "left", "baseline": "alphabetic", "color": "black"},
          "encoding": {
            "x": {"datum": 8.59, "type": "quantitative", "scale": {"domain": [0, 14], "nice": false, "zero": false}, "axis": null},
            "y": {"datum": 0.112, "type": "quantitative", "scale": {"domain": [0, 1.4], "nice": false, "zero": false}, "axis": null}
          }
        },
        {
          "data": {"values": [{}]},
          "mark": {"type": "text", "text": "c", "font": "DejaVu Serif", "fontSize": 24, "fontStyle": "italic", "align": "left", "baseline": "alphabetic", "color": "black"},
          "encoding": {
            "x": {"datum": 9.06, "type": "quantitative", "scale": {"domain": [0, 14], "nice": false, "zero": false}, "axis": null},
            "y": {"datum": 0.09, "type": "quantitative", "scale": {"domain": [0, 1.4], "nice": false, "zero": false}, "axis": null}
          }
        },
        {
          "data": {"values": [{}]},
          "mark": {"type": "text", "text": ") > 0.8", "font": "DejaVu Serif", "fontSize": 36, "align": "left", "baseline": "alphabetic", "color": "black"},
          "encoding": {
            "x": {"datum": 9.4, "type": "quantitative", "scale": {"domain": [0, 14], "nice": false, "zero": false}, "axis": null},
            "y": {"datum": 0.112, "type": "quantitative", "scale": {"domain": [0, 1.4], "nice": false, "zero": false}, "axis": null}
          }
        }
      ]
    }
  ]
}
